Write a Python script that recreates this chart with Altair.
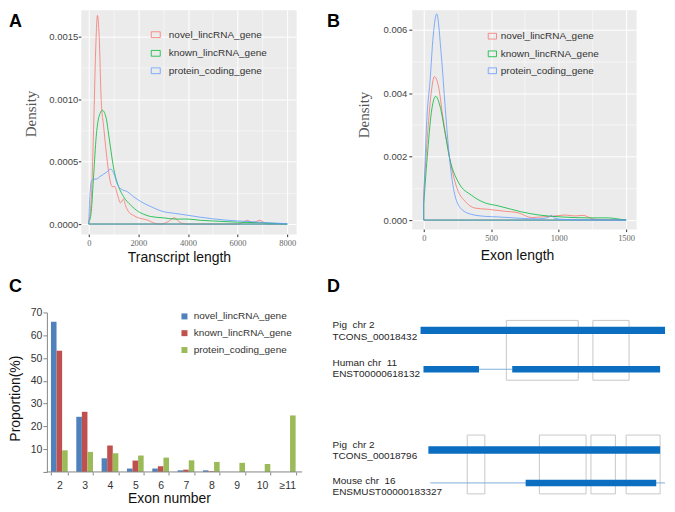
import altair as alt
import pandas as pd

SANS = "Liberation Sans"
SERIF = "Liberation Serif"

series = ["novel_lincRNA_gene", "known_lincRNA_gene", "protein_coding_gene"]
density_colors = ["#F8766D", "#00BA38", "#619CFF"]
bar_colors = ["#4F81BD", "#C0504D", "#9BBB59"]

# ---------------- Panel A: transcript length density ----------------
a_novel_x = [0, 100, 200, 280, 350, 420, 500, 600, 680, 800, 880, 950, 1050, 1150, 1280, 1400, 1480,
             1600, 1800, 2000, 2200, 2400, 2600, 2900, 3200, 3450, 3700, 4000, 6000, 6200, 6400, 6600,
             6900, 7200, 8000]
a_novel_d = [0.00002, 0.0002, 0.0008, 0.0014, 0.00167, 0.0015, 0.001, 0.00078, 0.00062, 0.00042, 0.00033,
             0.0003, 0.0003, 0.00024, 0.00017, 0.0002, 0.00015, 0.0001, 0.00007, 0.00005, 0.00004, 0.00003,
             0.00001, 0.0, 0.00002, 0.00005, 0.00001, 0.0, 0.0, 0.00001, 0.00003, 0.00001, 0.00003, 0.0, 0.0]
a_known_x = [0, 100, 200, 300, 400, 550, 700, 800, 900, 1000, 1150, 1400, 1700, 2000, 2200, 2500, 3000,
             3500, 4000, 4500, 5000, 6000, 7000, 8000]
a_known_d = [0.00001, 0.0001, 0.0004, 0.0007, 0.00085, 0.00091, 0.00085, 0.00072, 0.00058, 0.00045,
             0.00033, 0.00022, 0.00015, 0.0001, 0.00008, 0.00006, 0.00005, 0.00004, 0.00004, 0.00003,
             0.000025, 0.000015, 0.00001, 0.0]
a_prot_x = [0, 40, 100, 200, 300, 450, 600, 750, 880, 1000, 1150, 1300, 1550, 1800, 2100, 2500, 3000,
            3500, 4000, 4500, 5000, 5500, 6000, 6500, 7000, 7500, 8000]
a_prot_d = [0.00001, 0.0002, 0.00034, 0.00036, 0.00036, 0.00038, 0.0004, 0.00042, 0.00044, 0.00041,
            0.00032, 0.00028, 0.00026, 0.00022, 0.00018, 0.00014, 0.0001, 0.000085, 0.00007, 0.000055,
            0.000042, 0.000032, 0.000025, 0.00002, 0.000013, 0.000008, 0.000003]

# ---------------- Panel B: exon length density ----------------
b_novel_x = [0, 30, 55, 79, 110, 140, 170, 192, 256, 305, 378, 479, 600, 700, 800, 870, 950, 1050,
             1120, 1180, 1260, 1350, 1500]
b_novel_d = [0.0008, 0.0028, 0.004, 0.00452, 0.0042, 0.0033, 0.0025, 0.00195, 0.0009, 0.0006, 0.00038,
             0.00034, 0.00028, 0.00023, 0.00008, 0.0001, 0.00012, 0.00016, 0.00013, 0.00015, 0.00003,
             0.00001, 0.0]
b_known_x = [0, 30, 60, 89, 120, 160, 192, 256, 355, 450, 550, 650, 724, 855, 1020, 1220, 1370, 1450, 1500]
b_known_d = [0.0005, 0.0022, 0.0035, 0.0039, 0.0036, 0.0027, 0.00195, 0.0012, 0.00078, 0.00055, 0.00045,
             0.00034, 0.00026, 0.00016, 0.0001, 0.00007, 0.00007, 0.00003, 0.0]
b_prot_x = [0, 22, 47, 70, 96, 130, 160, 192, 230, 281, 355, 450, 552, 700, 850, 920, 945, 970, 1040,
            1200, 1500]
b_prot_d = [0.0006, 0.0031, 0.0044, 0.0058, 0.0065, 0.0052, 0.0035, 0.0019, 0.0008, 0.00034, 0.00018,
            0.00012, 0.0001, 0.00006, 0.00004, 0.00008, 0.00015, 0.00006, 0.00002, 0.00001, 0.0]

# ---------------- Panel C: exon number proportions ----------------
c_cats = ["2", "3", "4", "5", "6", "7", "8", "9", "10", "≥11"]
c_novel = [65.9, 24.2, 6.0, 1.5, 1.5, 0.7, 0.7, 0.0, 0.0, 0.0]
c_known = [53.2, 26.4, 11.6, 5.0, 2.5, 1.0, 0.3, 0.0, 0.0, 0.0]
c_prot = [9.5, 8.8, 8.2, 7.2, 6.3, 5.1, 4.4, 4.0, 3.5, 24.8]

# ---------------- Panel D: conserved structure schematic ----------------
d_label_text = ["Pig\u00a0 chr 2", "TCONS_00018432", "Human chr\u00a0 11", "ENST00000618132",
                "Pig\u00a0 chr 2", "TCONS_00018796", "Mouse chr\u00a0 16", "ENSMUST00000183327"]
d_label_y = [46.7, 58.3, 84.3, 96, 167.3, 178.3, 202.7, 214.3]
d_label_x = [-360] * 8
d_exon_x1 = [0, 12, 375, 32, 430]
d_exon_x2 = [1000, 239, 980, 980, 964]
d_exon_y1 = [48.3, 87.7, 87.7, 168.3, 201.7]
d_exon_y2 = [55.7, 94.3, 94.3, 175.7, 208.3]
d_intron_x1 = [239, 40]
d_intron_x2 = [375, 1000]
d_intron_y = [91, 205]
d_box_x1 = [351, 705, 191, 486, 697, 841]
d_box_x2 = [645, 853, 263, 677, 797, 980]
d_box_y1 = [42, 42, 157, 157, 157, 157]
d_box_y2 = [102, 102, 216, 216, 216, 216]


def long_df(xs_list, ds_list):
    rows = []
    for s, xs, ds in zip(series, xs_list, ds_list):
        for x, d in zip(xs, ds):
            rows.append({"series": s, "x": x, "d": d})
    return pd.DataFrame(rows)


def step_test(step):
    return f"abs(datum.value / {step} - round(datum.value / {step})) < 0.001"


def text_layer(text, x, y, size=14, font=SANS, color="#111111", weight="normal", angle=0,
               align="center", baseline="middle"):
    return alt.Chart(pd.DataFrame({"t": [text]})).mark_text(
        font=font, fontSize=size, fontWeight=weight, color=color, angle=angle,
        align=align, baseline=baseline,
    ).encode(x=alt.value(x), y=alt.value(y), text="t:N")


def letter_layer(letter, x, y):
    return text_layer(letter, x, y, size=18, color="black", weight="bold", align="left",
                      baseline="alphabetic")


def legend_layers(colors, sym_x1, sym_x2, centers, sym_h, label_x, filled):
    layers = []
    for name, col, cy in zip(series, colors, centers):
        if filled:
            sym = alt.Chart(pd.DataFrame({"k": [name]})).mark_rect(color=col)
        else:
            sym = alt.Chart(pd.DataFrame({"k": [name]})).mark_rect(
                fillOpacity=0, stroke=col, strokeWidth=1, strokeOpacity=0.8)
        layers.append(sym.encode(
            x=alt.value(sym_x1), x2=alt.value(sym_x2),
            y=alt.value(cy - sym_h / 2), y2=alt.value(cy + sym_h / 2),
        ))
        layers.append(text_layer(name, label_x, cy, size=10, color="#333333", align="left"))
    return layers


def density_panel(df, xdom, ydom, xvals, xmajor, yvals, ymajor, yfmt, ytick, ylabpad):
    xmaj = step_test(xmajor)
    ymaj = step_test(ymajor)
    x_axis = alt.Axis(
        values=xvals, title=None,
        labelExpr=f"{xmaj} ? format(datum.value, 'd') : ''",
        labelFont=SERIF, labelFontSize=8.5, labelColor="#666666", labelPadding=2.3,
        labelFlush=False, labelOverlap=False,
        tickSize=2.5, tickColor="#333333",
        tickOpacity={"condition": {"test": xmaj, "value": 1}, "value": 0},
        domain=False, grid=True, gridColor="white",
        gridWidth={"condition": {"test": xmaj, "value": 1}, "value": 0.5},
    )
    y_axis = alt.Axis(
        values=yvals, title=None,
        labelExpr=f"{ymaj} ? format(datum.value, '{yfmt}') : ''",
        labelFont=SANS, labelFontSize=9.5, labelColor="#444444", labelPadding=ylabpad,
        labelFlush=False, labelOverlap=False,
        tickSize=ytick, tickColor="#333333",
        tickOpacity={"condition": {"test": ymaj, "value": 1}, "value": 0},
        domain=False, grid=True, gridColor="white",
        gridWidth={"condition": {"test": ymaj, "value": 1}, "value": 0.5},
    )
    return alt.Chart(df).mark_area(
        fillOpacity=0, strokeWidth=1, strokeOpacity=0.8, interpolate="monotone"
    ).encode(
        x=alt.X("x:Q", scale=alt.Scale(domain=xdom, nice=False, zero=False), axis=x_axis),
        y=alt.Y("d:Q", stack=None, scale=alt.Scale(domain=ydom, nice=False, zero=False), axis=y_axis),
        y2=alt.datum(0),
        stroke=alt.Stroke("series:N", scale=alt.Scale(domain=series, range=density_colors), legend=None),
    )


# ---- Panel A (plot area: page x 80-296, y 8-233) ----
curves_a = density_panel(
    long_df([a_novel_x, a_known_x, a_prot_x], [a_novel_d, a_known_d, a_prot_d]),
    [-322, 8362], [-0.00008, 0.001715],
    list(range(0, 8001, 1000)), 2000,
    [0, 0.00025, 0.0005, 0.00075, 0.001, 0.00125, 0.0015], 0.0005, ".4f", 2.5, 0.5,
)
panel_a = alt.layer(
    curves_a,
    *legend_layers(density_colors, 70.7, 79.7, [25, 43.7, 61.2], 5.8, 88.3, False),
    letter_layer("A", -72, 17),
    text_layer("Density", -50, 104.5, size=15, font=SERIF, color="#555555", angle=270),
    text_layer("Transcript length", 99, 248.7, size=14),
).properties(width=216, height=225, view=alt.ViewBackground(fill="#EBEBEB", stroke="transparent"))

# ---- Panel B (plot area: page x 410-635, y 8-228) ----
curves_b = density_panel(
    long_df([b_novel_x, b_known_x, b_prot_x], [b_novel_d, b_known_d, b_prot_d]),
    [-88.7, 1574], [-0.000283, 0.006628],
    list(range(0, 1501, 250)), 500,
    [0, 0.001, 0.002, 0.003, 0.004, 0.005, 0.006], 0.002, ".3f", 3, 2,
)
panel_b = alt.layer(
    curves_b,
    *legend_layers(density_colors, 76.7, 85, [26.5, 44.2, 61.2], 5.8, 89.3, False),
    letter_layer("B", -85, 17),
    text_layer("Density", -48.3, 105.5, size=15, font=SERIF, color="#555555", angle=270),
    text_layer("Exon length", 106, 247, size=14),
).properties(width=225, height=220, view=alt.ViewBackground(fill="#EBEBEB", stroke="transparent"))

# ---- Panel C (group origin at page x 80 so it lines up with A; axis at page x 46) ----
c_rows = []
for s, vals in zip(series, [c_novel, c_known, c_prot]):
    for cat, v in zip(c_cats, vals):
        c_rows.append({"cat": cat, "series": s, "value": v})
df_c = pd.DataFrame(c_rows)

# explicit band range: its span (245.4 px) also becomes the cell width
c_bars = alt.Chart(df_c).mark_bar().encode(
    x=alt.X(
        "cat:N", sort=c_cats,
        scale=alt.Scale(range=[-29.9, 215.5], paddingInner=0.34, paddingOuter=0),
        axis=alt.Axis(
            title=None, labelAngle=0, labelFont=SANS, labelFontSize=10.5, labelColor="#333333",
            labelPadding=6, tickSize=3, tickColor="#868686", tickBand="extent",
            domain=False, grid=False,
        ),
    ),
    xOffset=alt.XOffset("series:N", sort=series, scale=alt.Scale(domain=series)),
    y=alt.Y(
        "value:Q", scale=alt.Scale(domain=[0, 70], nice=False),
        axis=alt.Axis(
            values=list(range(0, 71, 10)), labelExpr="datum.value == 0 ? '' : datum.label",
            title=None, labelFont=SANS, labelFontSize=10.5, labelColor="#333333", labelPadding=1,
            tickSize=4, tickColor="#868686", domainColor="#868686", grid=False, offset=34,
        ),
    ),
    color=alt.Color("series:N", scale=alt.Scale(domain=series, range=bar_colors), legend=None),
)
c_baseline = alt.Chart(pd.DataFrame({"k": [0]})).mark_rule(color="#868686", strokeWidth=1).encode(
    x=alt.value(-34), x2=alt.value(222), y=alt.value(160)
)
panel_c = alt.layer(
    c_bars,
    c_baseline,
    *legend_layers(bar_colors, 101, 107, [4, 20.8, 37.7], 6, 113.3, True),
    letter_layer("C", -72, -20.7),
    text_layer("Proportion(%)", -65, 86.5, size=14, angle=270),
    text_layer("Exon number", 89, 187, size=14),
).properties(width=222, height=160, view=alt.ViewBackground(fill="transparent", stroke="transparent"))

# ---- Panel D (plot area: page x 325-665, y 309-497) ----
xs_d = alt.Scale(domain=[-382.5, 1004], nice=False, zero=False)
ys_d = alt.Scale(domain=[34, 222], nice=False, zero=False, reverse=True)

d_boxes = alt.Chart(pd.DataFrame({"x1": d_box_x1, "x2": d_box_x2, "y1": d_box_y1, "y2": d_box_y2})).mark_rect(
    fillOpacity=0, stroke="#C8C8C8", strokeWidth=1
).encode(
    x=alt.X("x1:Q", scale=xs_d, axis=None), x2="x2:Q",
    y=alt.Y("y1:Q", scale=ys_d, axis=None), y2="y2:Q",
)
d_introns = alt.Chart(pd.DataFrame({"x1": d_intron_x1, "x2": d_intron_x2, "y": d_intron_y})).mark_rule(
    color="#7FAEDC", strokeWidth=1
).encode(
    x=alt.X("x1:Q", scale=xs_d, axis=None), x2="x2:Q",
    y=alt.Y("y:Q", scale=ys_d, axis=None),
)
d_exons = alt.Chart(pd.DataFrame({"x1": d_exon_x1, "x2": d_exon_x2, "y1": d_exon_y1, "y2": d_exon_y2})).mark_rect(
    color="#0B6EC0"
).encode(
    x=alt.X("x1:Q", scale=xs_d, axis=None), x2="x2:Q",
    y=alt.Y("y1:Q", scale=ys_d, axis=None), y2="y2:Q",
)
d_labels = alt.Chart(pd.DataFrame({"x": d_label_x, "y": d_label_y, "t": d_label_text})).mark_text(
    font=SANS, fontSize=10, align="left", baseline="middle", color="#262626"
).encode(
    x=alt.X("x:Q", scale=xs_d, axis=None),
    y=alt.Y("y:Q", scale=ys_d, axis=None),
    text="t:N",
)
panel_d = alt.layer(d_boxes, d_introns, d_exons, d_labels, letter_layer("D", 0, -20.7)).properties(
    width=340, height=188, view=alt.ViewBackground(fill="transparent", stroke="transparent")
)

row1 = alt.hconcat(panel_a, panel_b, spacing=29)
row2 = alt.hconcat(panel_c, panel_d, spacing=0)
chart = alt.vconcat(row1, row2, spacing=10.6).properties(padding=0).configure_view(stroke="transparent")

chart.save("out.html", embed_options={"renderer": "svg", "actions": False})
